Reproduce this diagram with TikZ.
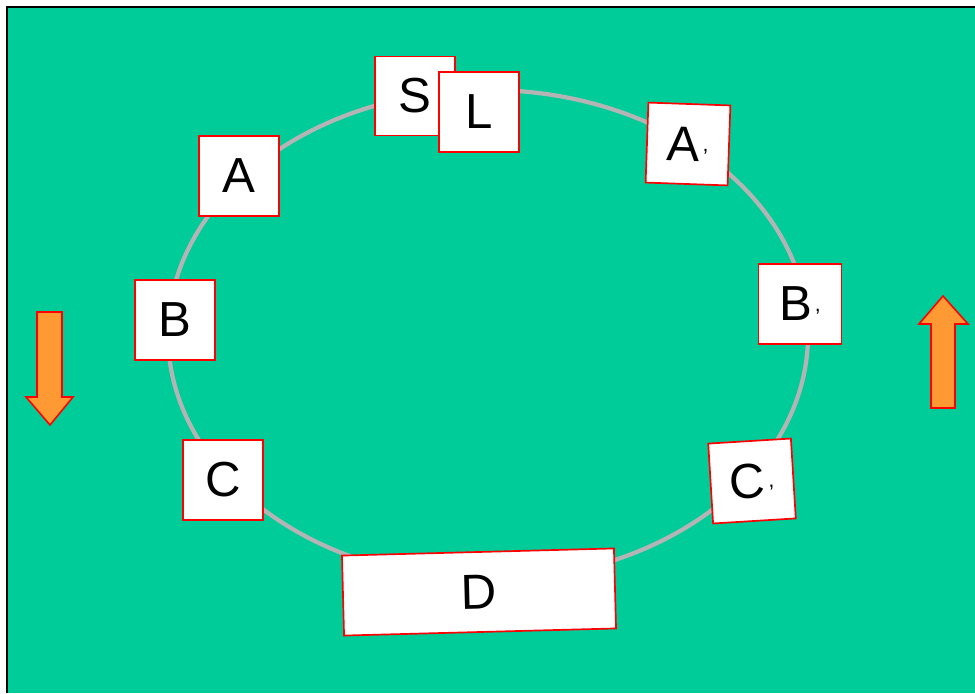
\documentclass[tikz,border=0pt]{standalone}
\usepackage{fontspec}
\setmainfont{Liberation Sans}
\definecolor{fieldgreen}{HTML}{00CC99}
\definecolor{arroworange}{HTML}{FF9933}
\definecolor{trackgray}{HTML}{B4B4B4}
\newcommand{\tick}{\kern2pt\raisebox{7pt}{\fontsize{15}{15}\selectfont ,}}
\tikzset{
  card/.style={draw=red, fill=white, line width=1.2pt, inner sep=0pt,
    minimum width=2cm, minimum height=2cm,
    font=\fontsize{35}{42}\selectfont},
  track/.style={draw=trackgray, line width=3pt},
  turn/.style={draw=red, fill=arroworange, line width=1.1pt, line join=miter}
}
\begin{document}
\begin{tikzpicture}[x=0.025cm, y=-0.025cm]
  \useasboundingbox (0,0) rectangle (975,693);
  % field and frame
  \fill[fieldgreen] (7,7) rectangle (975,693);
  \draw[black, line width=1.4pt] (7,693) -- (7,7) -- (975,7);
  % loop
  \draw[track] (488,335) ellipse (320 and 245);
  % left side
  \node[card, minimum height=1.975cm] (S) at (415,96) {S};
  \node[card] (L) at (479,112) {L};
  \node[card] (A) at (239,176) {A};
  \node[card] (B) at (175,320) {B};
  \node[card] (C) at (223,480) {C};
  % right side
  \node[card, rotate=-2, minimum width=2.05cm] (Ap) at (688,144) {A\tick};
  \node[card, minimum width=2.07cm] (Bp) at (800,304) {B\tick};
  \node[card, rotate=3.5, minimum width=2.07cm] (Cp) at (752,481) {C\tick};
  % bottom
  \node[card, rotate=1.5, minimum width=6.8cm] (D) at (479,592) {D};
  % direction arrows
  \draw[turn] (37,312) -- (62,312) -- (62,397) -- (73,397) -- (50,425)
    -- (26,397) -- (37,397) -- cycle;
  \draw[turn] (931,408) -- (955,408) -- (955,324) -- (968,324) -- (943,296)
    -- (919,324) -- (931,324) -- cycle;
\end{tikzpicture}
\end{document}
